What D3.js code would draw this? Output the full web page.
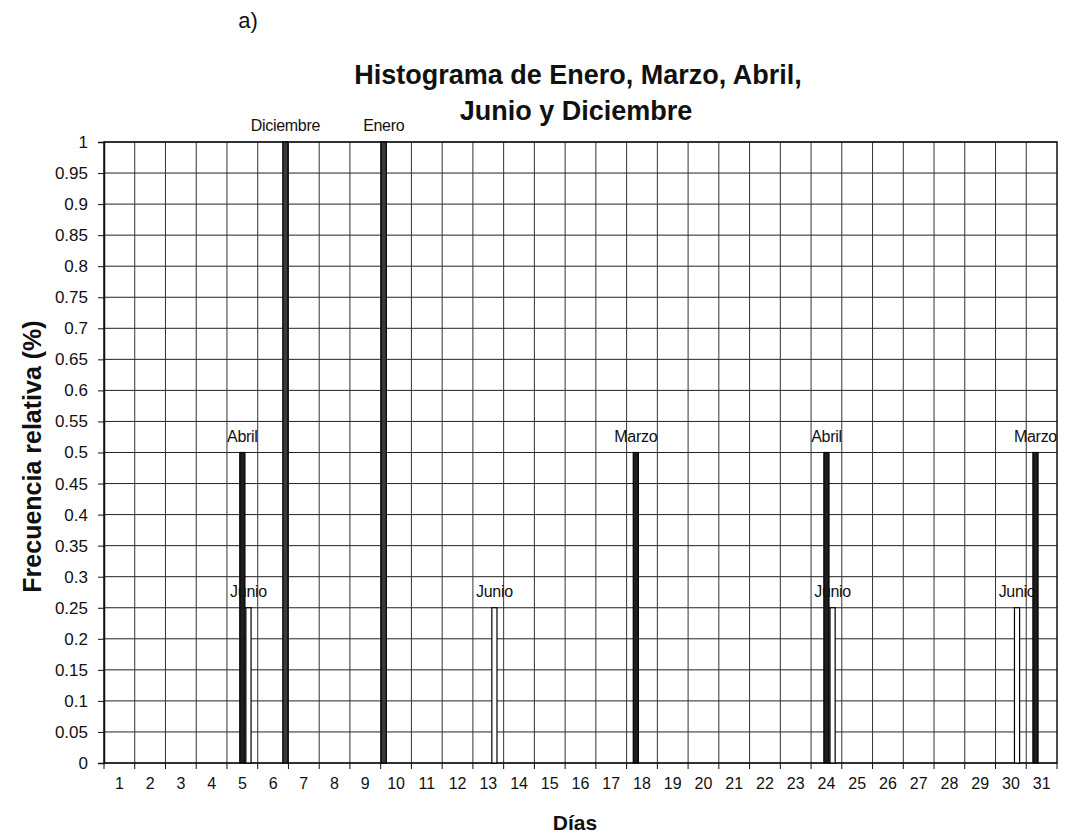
<!DOCTYPE html>
<html>
<head>
<meta charset="utf-8">
<script src="https://cdn.jsdelivr.net/npm/d3@7"></script>
<style>
  body { margin: 0; background: #fff; }
  text { font-family: "Liberation Sans", Arial, sans-serif; fill: #111; }
</style>
</head>
<body>
<div id="chart"></div>
<script>
// categories (days of the month) and series
var days = d3.range(1, 32).map(String);
var series = ["Enero", "Marzo", "Abril", "Junio", "Diciembre"];

// non-zero relative frequencies per series: [day, value]
var enero = [["10", 1]];
var marzo = [["18", 0.5], ["31", 0.5]];
var abril = [["5", 0.5], ["24", 0.5]];
var junio = [["5", 0.25], ["13", 0.25], ["24", 0.25], ["30", 0.25]];
var diciembre = [["6", 1]];

var yTicks = d3.range(0, 21).map(function (i) { return i / 20; });

var fills = { Enero: "#3a3a3a", Marzo: "#1e1e1e", Abril: "#1e1e1e", Junio: "#ffffff", Diciembre: "#3a3a3a" };

var allBars = [];
[["Enero", enero], ["Marzo", marzo], ["Abril", abril], ["Junio", junio], ["Diciembre", diciembre]]
  .forEach(function (s) {
    s[1].forEach(function (p) { allBars.push({ serie: s[0], day: p[0], value: p[1] }); });
  });

var W = 1066, H = 833;
var margin = { top: 142, right: 9, bottom: 70, left: 104 },
  width = W - margin.left - margin.right,
  height = H - margin.top - margin.bottom;

var svg = d3.select("#chart").append("svg")
  .attr("width", W).attr("height", H);

// "a)" panel label and title
svg.append("text").attr("x", 248).attr("y", 28).attr("text-anchor", "middle")
  .style("font-size", "22px").text("a)");
svg.append("text").attr("x", 578).attr("y", 84).attr("text-anchor", "middle")
  .style("font-size", "27px").style("font-weight", "bold")
  .text("Histograma de Enero, Marzo, Abril,");
svg.append("text").attr("x", 576).attr("y", 120).attr("text-anchor", "middle")
  .style("font-size", "27px").style("font-weight", "bold")
  .text("Junio y Diciembre");

var g = svg.append("g").attr("transform", "translate(" + margin.left + "," + margin.top + ")");

var x = d3.scaleBand().domain(days).range([0, width]).padding(0);
var xs = d3.scaleBand().domain(series).range([0, x.bandwidth()]).padding(0);
var y = d3.scaleLinear().domain([0, 1]).range([height, 0]);

// grid
g.append("g").selectAll("line").data(yTicks).enter().append("line")
  .attr("x1", 0).attr("x2", width)
  .attr("y1", function (d) { return y(d); }).attr("y2", function (d) { return y(d); })
  .attr("stroke", "#222").attr("stroke-width", 1);
g.append("g").selectAll("line").data(days.slice(1)).enter().append("line")
  .attr("x1", function (d) { return x(d); }).attr("x2", function (d) { return x(d); })
  .attr("y1", 0).attr("y2", height)
  .attr("stroke", "#333").attr("stroke-width", 1);

// frame
g.append("rect").attr("x", 0).attr("y", 0).attr("width", width).attr("height", height)
  .attr("fill", "none").attr("stroke", "#111").attr("stroke-width", 1.5);

// bars
g.append("g").selectAll("rect").data(allBars).enter().append("rect")
  .attr("x", function (d) { return x(d.day) + xs(d.serie) + 0.5; })
  .attr("width", xs.bandwidth() - 1)
  .attr("y", function (d) { return y(d.value); })
  .attr("height", function (d) { return height - y(d.value); })
  .attr("fill", function (d) { return fills[d.serie]; })
  .attr("stroke", "#000").attr("stroke-width", 1.2);

// data labels (series name)
g.append("g").selectAll("text").data(allBars).enter().append("text")
  .attr("x", function (d) { return x(d.day) + xs(d.serie) + xs.bandwidth() / 2; })
  .attr("y", function (d) { return y(d.value) - 11; })
  .attr("text-anchor", "middle")
  .style("font-size", "16px")
  .style("letter-spacing", "-0.3px")
  .text(function (d) { return d.serie; });

// y axis
var yAxis = g.append("g")
  .call(d3.axisLeft(y).tickValues(yTicks).tickSize(6).tickPadding(10)
    .tickFormat(function (d) { return String(+d.toFixed(2)); }));
yAxis.select(".domain").attr("stroke", "#111").attr("stroke-width", 1.5);
yAxis.selectAll(".tick line").attr("stroke", "#111");
yAxis.selectAll("text").style("font-size", "17px")
  .style("font-family", "'Liberation Sans', Arial, sans-serif").attr("fill", "#111");

// x axis: labels in band centres, tick marks on boundaries
var xAxis = g.append("g").attr("transform", "translate(0," + height + ")")
  .call(d3.axisBottom(x).tickSize(0).tickPadding(15));
xAxis.select(".domain").remove();
xAxis.selectAll("text").style("font-size", "16px")
  .style("font-family", "'Liberation Sans', Arial, sans-serif").attr("fill", "#111");
g.append("g").selectAll("line").data(days.concat(["end"])).enter().append("line")
  .attr("x1", function (d) { return d === "end" ? width : x(d); })
  .attr("x2", function (d) { return d === "end" ? width : x(d); })
  .attr("y1", height).attr("y2", height + 6)
  .attr("stroke", "#111");

// axis titles
svg.append("text")
  .attr("transform", "translate(41," + (margin.top + height / 2 + 4) + ") rotate(-90)")
  .attr("text-anchor", "middle")
  .style("font-size", "25px").style("font-weight", "bold")
  .text("Frecuencia relativa (%)");
svg.append("text").attr("x", 575).attr("y", 830).attr("text-anchor", "middle")
  .style("font-size", "21px").style("font-weight", "bold")
  .text("Días");
</script>
</body>
</html>
